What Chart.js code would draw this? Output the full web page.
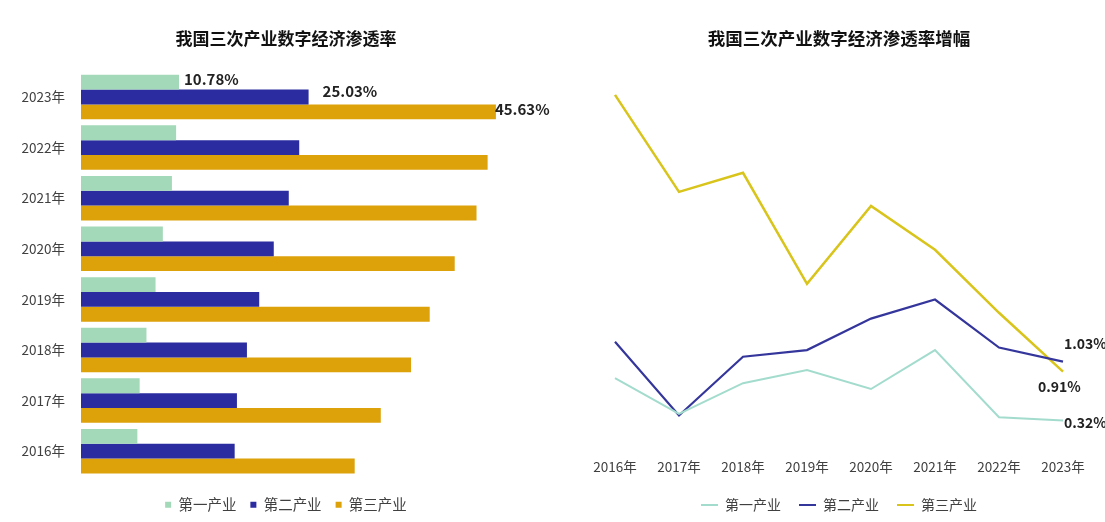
<!DOCTYPE html>
<html><head><meta charset="utf-8">
<script src="https://cdn.jsdelivr.net/npm/chart.js@4.4.0/dist/chart.umd.min.js"></script>
<style>
html,body{margin:0;padding:0;background:#fff;}
#wrap{position:relative;width:1105px;height:522px;overflow:hidden;background:#fff;}
#c1{position:absolute;left:0;top:0;}
#c2{position:absolute;left:560px;top:0;}
</style></head><body>
<div id="wrap">
<canvas id="c2" width="545" height="522"></canvas>
<canvas id="c1" width="572" height="522"></canvas>
</div>
<script>
// ---- data: left chart (渗透率, %) ----
const barYears = ['2023年','2022年','2021年','2020年','2019年','2018年','2017年','2016年'];
const primaryRate   = [10.78, 10.46, 10.0, 9.0, 8.2, 7.2, 6.45, 6.2];
const secondaryRate = [25.03, 24.0, 22.85, 21.2, 19.6, 18.25, 17.15, 16.9];
const tertiaryRate  = [45.63, 44.72, 43.5, 41.1, 38.35, 36.3, 32.97, 30.1];
const rateLabels    = ['10.78%', '25.03%', '45.63%'];

// ---- data: right chart (增幅, 百分点) ----
const lineYears = ['2016年','2017年','2018年','2019年','2020年','2021年','2022年','2023年'];
const primaryGrowth   = [0.83, 0.40, 0.77, 0.93, 0.70, 1.17, 0.36, 0.32];
const secondaryGrowth = [1.27, 0.38, 1.09, 1.17, 1.55, 1.78, 1.20, 1.03];
const tertiaryGrowth  = [4.25, 3.08, 3.31, 1.97, 2.91, 2.38, 1.62, 0.91];
const growthLabels    = ['0.32%', '1.03%', '0.91%'];

const seriesNames = ['第一产业','第二产业','第三产业'];

const FONT = '"Noto Sans CJK SC", "Noto Sans", sans-serif';
Chart.defaults.font.family = FONT;
Chart.defaults.color = '#404040';

// label plugin: draws the 2023 value labels at library-computed element positions
const endLabels = {
  id: 'endLabels',
  afterDatasetsDraw(chart, args, opts) {
    const ctx = chart.ctx;
    ctx.save();
    ctx.font = 'bold ' + opts.size + 'px ' + FONT;
    ctx.fillStyle = '#222';
    ctx.textBaseline = 'middle';
    ctx.textAlign = 'left';
    chart.data.datasets.forEach((ds, i) => {
      const meta = chart.getDatasetMeta(i);
      const el = meta.data[opts.index];
      if (!el) return;
      const off = opts.offsets[i];
      const p = el.getProps(['x','y'], true);
      ctx.fillText(opts.texts[i], p.x + off[0], p.y + off[1]);
    });
    ctx.restore();
  }
};

new Chart(document.getElementById('c1'), {
  type: 'bar',
  data: {
    labels: barYears,
    datasets: [
      { label: seriesNames[0], data: primaryRate,   backgroundColor: '#a3d9b8' },
      { label: seriesNames[1], data: secondaryRate, backgroundColor: '#2a2ca0' },
      { label: seriesNames[2], data: tertiaryRate,  backgroundColor: '#dda10a' }
    ]
  },
  plugins: [endLabels],
  options: {
    responsive: false,
    animation: false,
    devicePixelRatio: 1,
    indexAxis: 'y',
    layout: { padding: { left: 0, right: 0, top: 0, bottom: 0 } },
    datasets: { bar: { categoryPercentage: 0.88, barPercentage: 1.0 } },
    scales: {
      x: {
        min: 0, max: 54,
        grid: { display: false, drawTicks: false },
        border: { display: false },
        ticks: { display: false },
        afterFit(s) { s.height = 7; }
      },
      y: {
        grid: { display: false, drawTicks: false },
        border: { display: false },
        ticks: { padding: 16, color: '#404040', font: { size: 13.5 } },
        afterFit(s) { s.width = 81; }
      }
    },
    plugins: {
      title: {
        display: true,
        text: '我国三次产业数字经济渗透率',
        color: '#111',
        font: { size: 17, weight: 'bold' },
        padding: { top: 28, bottom: 23.3 }
      },
      legend: {
        position: 'bottom',
        labels: {
          usePointStyle: true, pointStyle: 'rect',
          boxWidth: 6, boxHeight: 6,
          padding: 14,
          color: '#404040',
          font: { size: 14.5 }
        }
      },
      tooltip: { enabled: false },
      endLabels: {
        index: 0, size: 15, texts: rateLabels,
        offsets: [[5, -3], [14, -6], [-1, -3]]
      }
    }
  }
});

new Chart(document.getElementById('c2'), {
  type: 'line',
  data: {
    labels: lineYears,
    datasets: [
      { label: seriesNames[0], data: primaryGrowth,   borderColor: '#a3dccd', backgroundColor: '#a3dccd', borderWidth: 2 },
      { label: seriesNames[1], data: secondaryGrowth, borderColor: '#35369c', backgroundColor: '#35369c', borderWidth: 2.2 },
      { label: seriesNames[2], data: tertiaryGrowth,  borderColor: '#d8c41a', backgroundColor: '#d8c41a', borderWidth: 2.5 }
    ]
  },
  plugins: [endLabels],
  options: {
    responsive: false,
    animation: false,
    devicePixelRatio: 1,
    elements: { point: { radius: 0 }, line: { tension: 0 } },
    layout: { padding: { left: 55, right: 42, top: 0, bottom: 0 } },
    scales: {
      x: {
        offset: false,
        grid: { display: false, drawTicks: false },
        border: { display: false },
        ticks: { padding: 12, color: '#404040', font: { size: 13.5 }, maxRotation: 0, autoSkip: false },
        afterFit(s) { s.height = 33; }
      },
      y: {
        display: false,
        min: 0, max: 4.5
      }
    },
    plugins: {
      title: {
        display: true,
        text: '我国三次产业数字经济渗透率增幅',
        color: '#111',
        font: { size: 17.5, weight: 'bold' },
        padding: { top: 28, bottom: 25.2 }
      },
      legend: {
        position: 'bottom',
        labels: {
          boxWidth: 17, boxHeight: 2,
          padding: 18,
          color: '#404040',
          font: { size: 14 },
          generateLabels(chart) {
            const items = Chart.defaults.plugins.legend.labels.generateLabels(chart);
            items.forEach(it => { it.lineWidth = 0; it.fillStyle = it.strokeStyle; });
            return items;
          }
        }
      },
      tooltip: { enabled: false },
      endLabels: {
        index: 7, size: 14, texts: growthLabels,
        offsets: [[1, 2], [1, -18], [-25, 15]]
      }
    }
  }
});
</script>
</body></html>
